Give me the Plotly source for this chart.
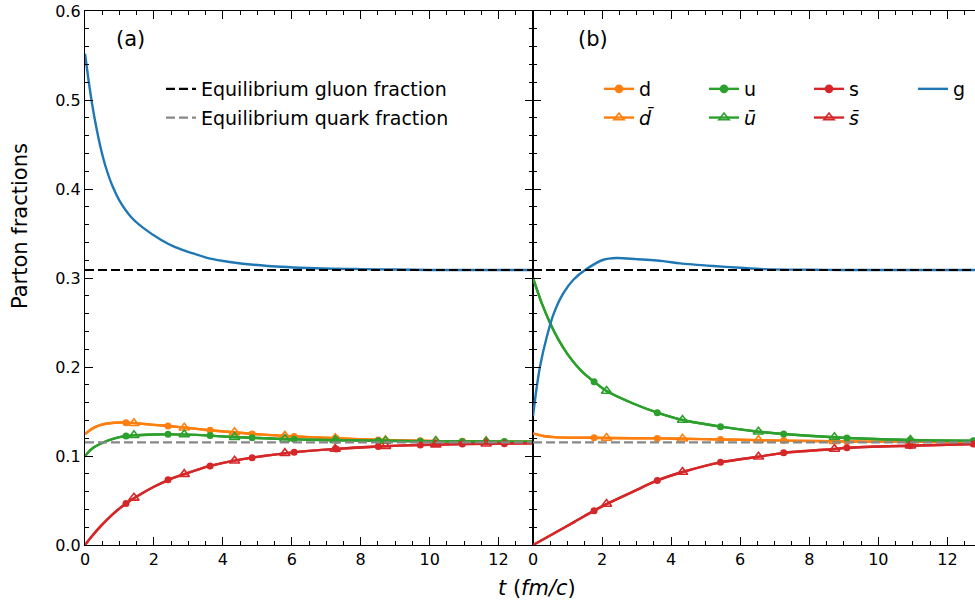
import plotly.graph_objects as go

# ---------------- data: panel (a) ----------------
t_a_g = [0, 0.1, 0.2, 0.3, 0.45, 0.6, 0.8, 1.0, 1.35, 1.7, 2.2, 2.6, 3.1, 3.6, 4.2, 5.3, 6.7, 8.0, 9.0, 10.0, 11.0, 12.0, 13.0]
g_a = [0.552, 0.523, 0.497, 0.475, 0.447, 0.425, 0.403, 0.387, 0.368, 0.356, 0.343, 0.335, 0.328, 0.322, 0.318, 0.3135, 0.311, 0.310, 0.3095, 0.309, 0.309, 0.309, 0.309]

t_a_d = [0, 0.2, 0.4, 0.6, 0.85, 1.2, 1.6, 2.0, 2.5, 3.0, 3.6, 4.3, 5.0, 5.8, 6.5, 7.3, 8.5, 9.7, 11.0, 12.2, 13.0]
d_a = [0.1245, 0.1305, 0.134, 0.1362, 0.1374, 0.1375, 0.1364, 0.135, 0.1334, 0.1315, 0.129, 0.1267, 0.1245, 0.1226, 0.1212, 0.1199, 0.1182, 0.1171, 0.1165, 0.1161, 0.116]
dbar_a = d_a

t_a_u = [0, 0.1, 0.25, 0.45, 0.7, 1.0, 1.4, 2.0, 2.5, 3.0, 3.6, 4.3, 5.0, 5.8, 6.5, 7.3, 8.5, 9.7, 11.0, 12.2, 13.0]
u_a = [0.0995, 0.1045, 0.1095, 0.1138, 0.1178, 0.1212, 0.1232, 0.1242, 0.1243, 0.124, 0.1229, 0.1213, 0.1202, 0.119, 0.1183, 0.1177, 0.1171, 0.1166, 0.1163, 0.1162, 0.1161]
ubar_a = u_a

t_a_s = [0, 0.2, 0.45, 0.8, 1.19, 1.6, 2.0, 2.45, 2.9, 3.6, 4.3, 4.9, 5.9, 7.3, 8.5, 9.7, 11.0, 12.2, 13.0]
s_a = [0.0, 0.0098, 0.0209, 0.0344, 0.0467, 0.0568, 0.0654, 0.0735, 0.0798, 0.0886, 0.0945, 0.0984, 0.1035, 0.108, 0.1107, 0.1124, 0.1134, 0.1139, 0.1142]
sbar_a = s_a

# marker positions, panel (a)
tq_a = [1.19, 2.41, 3.63, 4.85, 6.07, 7.29, 8.51, 9.73, 10.95, 12.17]
taq_a = [1.42, 2.88, 4.34, 5.8, 7.26, 8.72, 10.18, 11.64]
d_mk_a = [0.1374, 0.1337, 0.1289, 0.1247, 0.1218, 0.1199, 0.1181, 0.1171, 0.1165, 0.1161]
dbar_mk_a = [0.1368, 0.1318, 0.1266, 0.1226, 0.1199, 0.1177, 0.1168, 0.1163]
u_mk_a = [0.1225, 0.1243, 0.1229, 0.1204, 0.1188, 0.1177, 0.1171, 0.1166, 0.1163, 0.1162]
ubar_mk_a = [0.1233, 0.1241, 0.1212, 0.119, 0.1177, 0.1169, 0.1165, 0.1162]
s_mk_a = [0.0467, 0.0733, 0.0887, 0.0981, 0.1043, 0.1079, 0.1107, 0.1124, 0.1134, 0.1139]
sbar_mk_a = [0.0530, 0.0796, 0.0947, 0.1032, 0.1079, 0.1111, 0.1128, 0.1137]

# ---------------- data: panel (b) ----------------
t_b_g = [0, 0.1, 0.2, 0.4, 0.6, 0.88, 1.17, 1.55, 2.04, 2.42, 3.0, 3.77, 4.26, 5.22, 6.0, 6.67, 8.0, 9.0, 10.0, 11.0, 12.0, 12.8]
g_b = [0.145, 0.175, 0.2, 0.234, 0.26, 0.283, 0.298, 0.31, 0.3205, 0.3225, 0.3212, 0.319, 0.3165, 0.3135, 0.3115, 0.3100, 0.3093, 0.309, 0.309, 0.309, 0.309, 0.309]

t_b_d = [0, 0.3, 0.6, 1.0, 1.77, 2.13, 3.6, 4.33, 5.43, 6.53, 7.26, 8.73, 9.09, 10.92, 12.8]
d_b = [0.1255, 0.1225, 0.1212, 0.1207, 0.1205, 0.1202, 0.1198, 0.1193, 0.1186, 0.1178, 0.1173, 0.1165, 0.1163, 0.1159, 0.1156]
dbar_b = d_b

t_b_u = [0, 0.25, 0.5, 0.75, 1.0, 1.25, 1.5, 1.77, 2.13, 2.9, 3.6, 4.33, 5.43, 6.53, 7.26, 8.73, 9.09, 10.92, 12.8]
u_b = [0.3, 0.272, 0.249, 0.230, 0.2145, 0.202, 0.192, 0.1835, 0.173, 0.159, 0.1487, 0.1404, 0.133, 0.1273, 0.1247, 0.121, 0.1202, 0.118, 0.1171]
ubar_b = u_b

t_b_s = [0, 0.6, 1.2, 1.77, 2.13, 2.9, 3.6, 4.33, 5.43, 6.53, 7.26, 8.73, 9.09, 10.92, 12.8]
s_b = [0.0, 0.013, 0.026, 0.0386, 0.046, 0.06, 0.0725, 0.082, 0.0929, 0.0992, 0.1035, 0.1079, 0.1092, 0.1116, 0.1135]
sbar_b = s_b

tq_b = [1.77, 3.6, 5.43, 7.26, 9.09, 10.92, 12.75]
taq_b = [2.13, 4.33, 6.53, 8.73, 10.93]
d_mk_b = [0.1205, 0.1198, 0.1186, 0.1173, 0.1163, 0.1159, 0.1156]
dbar_mk_b = [0.1202, 0.1193, 0.1178, 0.1165, 0.1159]
u_mk_b = [0.1835, 0.1487, 0.133, 0.1247, 0.1202, 0.118, 0.1172]
ubar_mk_b = [0.173, 0.1404, 0.1273, 0.121, 0.118]
s_mk_b = [0.0386, 0.0725, 0.0929, 0.1036, 0.1092, 0.1116, 0.1135]
sbar_mk_b = [0.046, 0.082, 0.0992, 0.1079, 0.1116]

# equilibrium fractions
eq_gluon = 0.309
eq_quark = 0.1152
t_eq_a = [0, 13]
t_eq_b = [0, 12.8]

# tick labels
x_ticks = [0, 2, 4, 6, 8, 10, 12]
y_ticks = [0.0, 0.1, 0.2, 0.3, 0.4, 0.5, 0.6]

C_D = "#ff7f0e"
C_U = "#2ca02c"
C_S = "#d62728"
C_G = "#1f77b4"
FONT = "DejaVu Sans"
LW = 2.4

fig = go.Figure()


def add_line(t, y, color, xa, ya):
    fig.add_trace(go.Scatter(x=t, y=y, mode="lines", line=dict(color=color, width=LW, shape="spline", smoothing=0.8),
                             xaxis=xa, yaxis=ya, showlegend=False, hoverinfo="skip"))


def add_markers(t, y, color, symbol, xa, ya):
    if symbol == "circle":
        mk = dict(symbol="circle", size=7, color=color, line=dict(width=0))
    else:
        mk = dict(symbol="triangle-up-open", size=9, color=color, line=dict(width=1.6, color=color))
    fig.add_trace(go.Scatter(x=t, y=y, mode="markers", marker=mk, xaxis=xa, yaxis=ya, showlegend=False, hoverinfo="skip"))


panels = [
    ("x", "y", [(t_a_d, d_a, dbar_a, C_D, tq_a, d_mk_a, taq_a, dbar_mk_a),
                (t_a_u, u_a, ubar_a, C_U, tq_a, u_mk_a, taq_a, ubar_mk_a),
                (t_a_s, s_a, sbar_a, C_S, tq_a, s_mk_a, taq_a, sbar_mk_a)], t_a_g, g_a, t_eq_a),
    ("x2", "y2", [(t_b_d, d_b, dbar_b, C_D, tq_b, d_mk_b, taq_b, dbar_mk_b),
                  (t_b_u, u_b, ubar_b, C_U, tq_b, u_mk_b, taq_b, ubar_mk_b),
                  (t_b_s, s_b, sbar_b, C_S, tq_b, s_mk_b, taq_b, sbar_mk_b)], t_b_g, g_b, t_eq_b),
]

for xa, ya, species, tg, gv, teq in panels:
    for (t, q, aq, col, tq, qmk, taq, aqmk) in species:
        add_line(t, q, col, xa, ya)
        add_markers(tq, qmk, col, "circle", xa, ya)
        add_line(t, aq, col, xa, ya)
        add_markers(taq, aqmk, col, "triangle", xa, ya)
    add_line(tg, gv, C_G, xa, ya)
    first = xa == "x"
    fig.add_trace(go.Scatter(x=teq, y=[eq_gluon, eq_gluon], mode="lines",
                             line=dict(color="black", width=2.2, dash="9px,4px"),
                             xaxis=xa, yaxis=ya, name="Equilibrium gluon fraction",
                             showlegend=first, legend="legend", legendgroup="eg", hoverinfo="skip"))
    fig.add_trace(go.Scatter(x=teq, y=[eq_quark, eq_quark], mode="lines",
                             line=dict(color="#888888", width=2.2, dash="9px,4px"),
                             xaxis=xa, yaxis=ya, name="Equilibrium quark fraction",
                             showlegend=first, legend="legend", legendgroup="eq", hoverinfo="skip"))

# legend entries for panel (b)
legend_items = [
    ("legend2", "d", C_D, "circle"), ("legend2", "<i>d̄</i>", C_D, "triangle-up-open"),
    ("legend3", "u", C_U, "circle"), ("legend3", "<i>ū</i>", C_U, "triangle-up-open"),
    ("legend4", "s", C_S, "circle"), ("legend4", "<i>s̄</i>", C_S, "triangle-up-open"),
    ("legend5", "g", C_G, None),
]
for i, (lg, name, col, sym) in enumerate(legend_items):
    if sym is None:
        fig.add_trace(go.Scatter(x=[None], y=[None], mode="lines", line=dict(color=col, width=LW),
                                 name=name, legend=lg, legendgroup="b%d" % i, xaxis="x2", yaxis="y2"))
    else:
        mk = dict(symbol=sym, size=7 if sym == "circle" else 9, color=col, line=dict(width=1.6, color=col))
        fig.add_trace(go.Scatter(x=[None], y=[None], mode="lines+markers", line=dict(color=col, width=LW),
                                 marker=mk, name=name, legend=lg, legendgroup="b%d" % i, xaxis="x2", yaxis="y2"))

W, H = 975, 601
L, R, T, B = 85, 0, 11, 56
PW = W - L - R
PH = H - T - B
split = (533 - L) / PW


def px(xp):
    return (xp - L) / PW


def py(yp):
    return (H - B - yp) / PH


axis_common = dict(showline=True, linecolor="black", linewidth=1.3, ticks="inside", ticklen=8, tickwidth=1.2,
                   tickcolor="black", showgrid=False, zeroline=False,
                   tickfont=dict(family=FONT, size=16, color="black"))


def legend_at(xp, yp):
    return dict(x=px(xp), y=py(yp), xanchor="left", yanchor="top", bgcolor="rgba(0,0,0,0)",
                font=dict(family=FONT, size=19, color="black"), tracegroupgap=1, itemwidth=30)


def label(text, xp, yp, size=21, angle=0):
    return dict(text=text, x=px(xp), y=py(yp), xref="paper", yref="paper", showarrow=False,
                xanchor="center", yanchor="middle", textangle=angle,
                font=dict(family=FONT, size=size, color="black"))


fig.update_layout(
    width=W, height=H, margin=dict(l=L, r=R, t=T, b=B),
    plot_bgcolor="white", paper_bgcolor="white",
    font=dict(family=FONT, color="black"),
    xaxis=dict(domain=[0, split], range=[0, 13], tickvals=x_ticks, mirror="allticks", anchor="y",
               minor=dict(ticks="inside", ticklen=4, tickwidth=1, tickcolor="black", dtick=0.5, tick0=0), **axis_common),
    yaxis=dict(domain=[0, 1], range=[0, 0.6], tickvals=y_ticks, ticktext=["%.1f" % v for v in y_ticks],
               mirror="allticks", anchor="x",
               minor=dict(ticks="inside", ticklen=4, tickwidth=1, tickcolor="black", dtick=0.02, tick0=0), **axis_common),
    xaxis2=dict(domain=[split, 1], range=[0, 12.8], tickvals=x_ticks, mirror="allticks", anchor="y2",
                minor=dict(ticks="inside", ticklen=4, tickwidth=1, tickcolor="black", dtick=0.5, tick0=0), **axis_common),
    yaxis2=dict(domain=[0, 1], range=[0, 0.6], tickvals=y_ticks, showticklabels=False, mirror=False, anchor="x2",
                minor=dict(ticks="inside", ticklen=4, tickwidth=1, tickcolor="black", dtick=0.02, tick0=0), **axis_common),
    legend=legend_at(161, 70),
    legend2=legend_at(599, 70),
    legend3=legend_at(704, 70),
    legend4=legend_at(809, 70),
    legend5=legend_at(913, 70),
    annotations=[
        label("(a)", 130, 39),
        label("(b)", 593, 39),
        label("<i>t</i> (<i>fm/c</i>)", 537, 588),
        label("Parton fractions", 20, 226, angle=-90),
    ],
)

fig.write_html("out.html")
